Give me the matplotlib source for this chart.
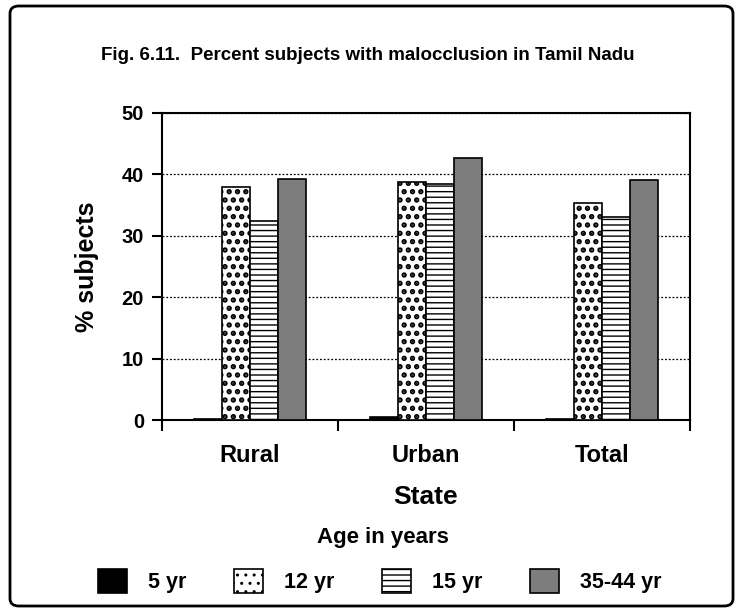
import matplotlib
matplotlib.use("Agg")
import matplotlib.pyplot as plt
import numpy as np
from matplotlib.patches import FancyBboxPatch

categories = ["Rural", "Urban", "Total"]
age_groups = ["5 yr", "12 yr", "15 yr", "35-44 yr"]
val_5yr = [0.2, 0.5, 0.2]
val_12yr = [37.9, 38.8, 35.3]
val_15yr = [32.4, 38.4, 33.0]
val_3544 = [39.2, 42.6, 39.1]
y_ticks = [0, 10, 20, 30, 40, 50]

series = [val_5yr, val_12yr, val_15yr, val_3544]
styles = [
    dict(facecolor="black", hatch=None, hlw=1.0),
    dict(facecolor="white", hatch="..", hlw=2.6),
    dict(facecolor="white", hatch="---", hlw=1.0),
    dict(facecolor="#7d7d7d", hatch=None, hlw=1.0),
]

FAM = ["Liberation Sans", "DejaVu Sans"]
plt.rcParams["font.family"] = FAM
plt.rcParams["font.weight"] = "bold"
plt.rcParams["hatch.color"] = "black"

fig = plt.figure(figsize=(7.39, 6.16), dpi=100)
W, H = 739, 616
ax = fig.add_axes([162 / W, 1 - 420 / H, (690 - 162) / W, (420 - 113) / H])

x = np.arange(len(categories))
bw = 0.16
handles = []
for i, (vals, st, lab) in enumerate(zip(series, styles, age_groups)):
    with plt.rc_context({"hatch.linewidth": st["hlw"]}):
        b = ax.bar(x + (i - 1.5) * bw, vals, width=bw, color=st["facecolor"],
                   edgecolor="black", linewidth=1.2, hatch=st["hatch"],
                   label=lab, zorder=3)
    handles.append(b)

ax.set_xlim(-0.5, 2.5)
ax.set_ylim(0, 50)
ax.set_yticks(y_ticks)
ax.set_yticklabels([str(t) for t in y_ticks], fontsize=14.5, fontweight="bold")
ax.set_xticks(x)
ax.set_xticklabels(categories, fontsize=17, fontweight="bold")
ax.set_xticks([-0.5, 0.5, 1.5, 2.5], minor=True)
ax.tick_params(axis="x", which="major", length=0, pad=17)
ax.tick_params(axis="x", which="minor", length=8, width=1.5, direction="out")
ax.tick_params(axis="y", length=7, width=1.5, direction="out", pad=6)
for s in ax.spines.values():
    s.set_linewidth(1.5)
ax.yaxis.grid(True, linestyle=(0, (1.5, 1.5)), color="black", linewidth=0.9, zorder=0)
ax.set_axisbelow(True)

ax.set_ylabel("% subjects", fontsize=18, fontweight="bold", labelpad=16)

fig.text(368 / W, 1 - 55 / H, "Fig. 6.11.  Percent subjects with malocclusion in Tamil Nadu",
         ha="center", va="center", fontsize=13.5, fontweight="bold")
fig.text(426 / W, 1 - 497 / H, "State", ha="center", va="center",
         fontsize=19, fontweight="bold")
fig.text(383 / W, 1 - 537 / H, "Age in years", ha="center", va="center",
         fontsize=16, fontweight="bold")

leg = fig.legend(handles=handles, labels=age_groups, loc="center",
                 bbox_to_anchor=(380 / W, 1 - 581 / H), ncol=4, frameon=False,
                 prop={"size": 15.5, "weight": "bold"},
                 handlelength=1.35, handleheight=1.35, handletextpad=0.98,
                 columnspacing=2.2)

border = FancyBboxPatch((10 / W, 10 / H), (733 - 10) / W, (610 - 10) / H,
                        boxstyle="round,pad=0,rounding_size=0.012",
                        transform=fig.transFigure, facecolor="none",
                        edgecolor="black", linewidth=2)
fig.patches.append(border)

fig.savefig("out.png", dpi=100)
